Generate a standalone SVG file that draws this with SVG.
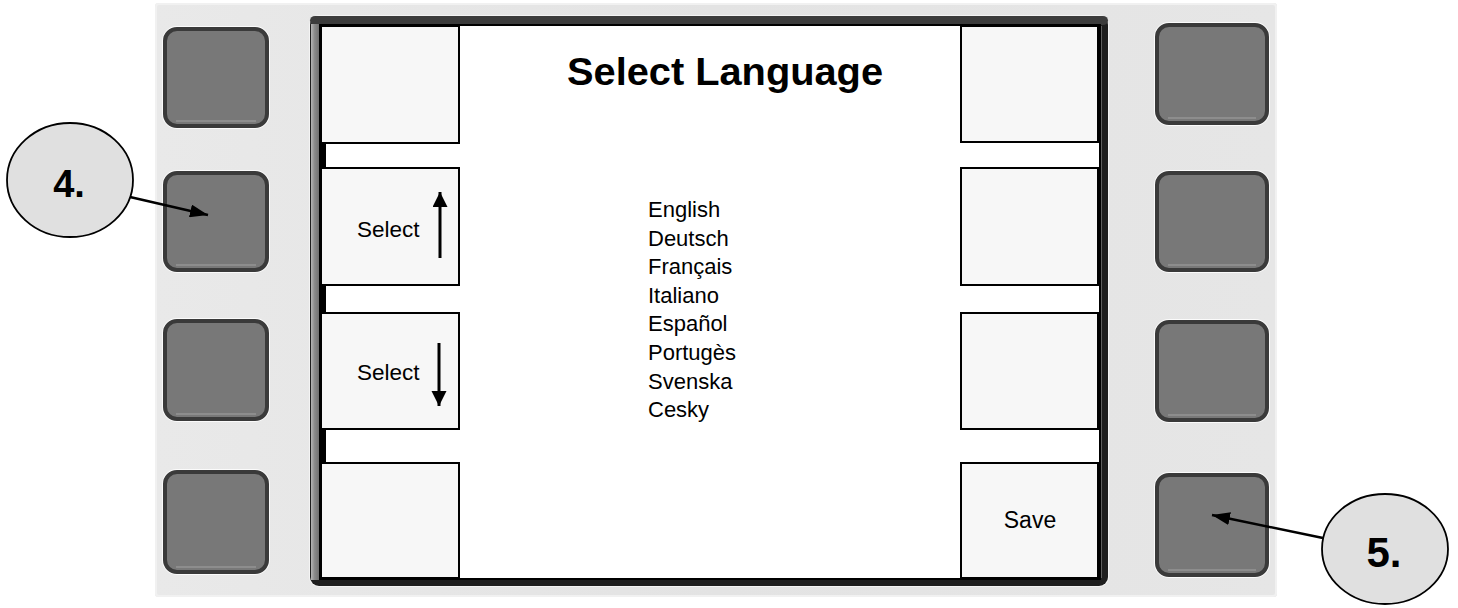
<svg xmlns="http://www.w3.org/2000/svg" width="1458" height="608" viewBox="0 0 1458 608">
  <defs>
    <style>
      .txt { font-family: "Liberation Sans", Arial, sans-serif; fill: #000; }
      .btn { fill: #787878; stroke: #3a3a3a; stroke-width: 4; }
      .halo { fill: none; stroke: #fbfbfb; stroke-width: 2; }
      .btnhl { fill: none; stroke: #959595; stroke-width: 1.5; }
      .key { fill: #f7f7f7; stroke: #000; stroke-width: 2; }
      .callout { fill: #e0e0e0; stroke: #000; stroke-width: 1.8; }
      .conn { stroke: #000; stroke-width: 2.5; fill: none; }
      .soft { stroke: #000; stroke-width: 3; fill: none; }
    </style>
    <linearGradient id="panelGrad" x1="0" y1="0" x2="1" y2="0">
      <stop offset="0" stop-color="#e9e9e9"/>
      <stop offset="0.5" stop-color="#e3e3e3"/>
      <stop offset="1" stop-color="#e6e6e6"/>
    </linearGradient>
    <linearGradient id="bezelLeft" x1="0" y1="0" x2="1" y2="0">
      <stop offset="0" stop-color="#b5b5b5"/>
      <stop offset="0.4" stop-color="#8a8a8a"/>
      <stop offset="1" stop-color="#6a6a6a"/>
    </linearGradient>
    <marker id="arrowHead" markerUnits="userSpaceOnUse" markerWidth="19" markerHeight="13" refX="18" refY="6.5" orient="auto">
      <path d="M0,0 L18,6.5 L0,13 z" fill="#000"/>
    </marker>
    <marker id="softHead" markerUnits="userSpaceOnUse" markerWidth="16" markerHeight="16" refX="15" refY="7.5" orient="auto">
      <path d="M0,0 L15,7.5 L0,15 z" fill="#000"/>
    </marker>
  </defs>

  <rect width="1458" height="608" fill="#fff"/>

  <!-- device panel -->
  <g id="panel">
    <rect x="155" y="3" width="1122" height="594" rx="3" fill="url(#panelGrad)"/>
    <rect x="156" y="4" width="1120" height="592" rx="3" fill="none" stroke="#f1f1f1" stroke-width="2"/>
  </g>

  <!-- hardware buttons -->
  <g id="button-left-1">
    <rect class="halo" x="163" y="27" width="106" height="101" rx="14"/>
    <rect class="btn" x="165" y="29" width="102" height="97" rx="12"/>
    <path class="btnhl" d="M176,121 H256"/>
  </g>
  <g id="button-left-2">
    <rect class="halo" x="163" y="171" width="106" height="101" rx="14"/>
    <rect class="btn" x="165" y="173" width="102" height="97" rx="12"/>
    <path class="btnhl" d="M176,265 H256"/>
  </g>
  <g id="button-left-3">
    <rect class="halo" x="163" y="319" width="106" height="102" rx="14"/>
    <rect class="btn" x="165" y="321" width="102" height="98" rx="12"/>
    <path class="btnhl" d="M176,414 H256"/>
  </g>
  <g id="button-left-4">
    <rect class="halo" x="163" y="470" width="106" height="104" rx="14"/>
    <rect class="btn" x="165" y="472" width="102" height="100" rx="12"/>
    <path class="btnhl" d="M176,567 H256"/>
  </g>
  <g id="button-right-1">
    <rect class="halo" x="1155" y="23" width="114" height="102" rx="14"/>
    <rect class="btn" x="1157" y="25" width="110" height="98" rx="12"/>
    <path class="btnhl" d="M1168,118 H1256"/>
  </g>
  <g id="button-right-2">
    <rect class="halo" x="1155" y="171" width="114" height="101" rx="14"/>
    <rect class="btn" x="1157" y="173" width="110" height="97" rx="12"/>
    <path class="btnhl" d="M1168,265 H1256"/>
  </g>
  <g id="button-right-3">
    <rect class="halo" x="1155" y="320" width="114" height="102" rx="14"/>
    <rect class="btn" x="1157" y="322" width="110" height="98" rx="12"/>
    <path class="btnhl" d="M1168,415 H1256"/>
  </g>
  <g id="button-right-4">
    <rect class="halo" x="1155" y="473" width="114" height="104" rx="14"/>
    <rect class="btn" x="1157" y="475" width="110" height="100" rx="12"/>
    <path class="btnhl" d="M1168,570 H1256"/>
  </g>

  <!-- screen bezel -->
  <g id="screen">
    <rect x="309" y="15" width="800" height="572" rx="10" fill="#f4f4f4"/>
    <rect x="310" y="16" width="798" height="570" rx="9" fill="#1e1e1e"/>
    <rect x="310" y="16" width="798" height="9" rx="5" fill="#3c3c3c"/>
    <rect x="311" y="24" width="9" height="556" fill="url(#bezelLeft)"/>
    <rect x="1100" y="26" width="1.5" height="552" fill="#a0a0a0"/>
    <rect x="320" y="25" width="780" height="554" fill="#fff" stroke="#000" stroke-width="2"/>
  </g>

  <!-- soft key boxes -->
  <g id="softkey-left-1"><rect class="key" x="321" y="26" width="138" height="117"/></g>
  <g id="softkey-left-2">
    <rect class="key" x="321" y="168" width="138" height="117"/>
    <text class="txt" x="357" y="237" font-size="22.5">Select</text>
    <line class="soft" x1="440" y1="258" x2="440" y2="192" marker-end="url(#softHead)"/>
  </g>
  <g id="softkey-left-3">
    <rect class="key" x="321" y="313" width="138" height="116"/>
    <text class="txt" x="357" y="380" font-size="22.5">Select</text>
    <line class="soft" x1="439" y1="343" x2="439" y2="406" marker-end="url(#softHead)"/>
  </g>
  <g id="softkey-left-4"><rect class="key" x="321" y="463" width="138" height="115"/></g>
  <g id="softkey-right-1"><rect class="key" x="961" y="26" width="137" height="116"/></g>
  <g id="softkey-right-2"><rect class="key" x="961" y="168" width="137" height="117"/></g>
  <g id="softkey-right-3"><rect class="key" x="961" y="313" width="137" height="116"/></g>
  <g id="softkey-right-4">
    <rect class="key" x="961" y="463" width="137" height="115"/>
    <text class="txt" x="1030" y="528" font-size="23" text-anchor="middle">Save</text>
  </g>

  <!-- left gap markers -->
  <g id="gap-markers" fill="#000">
    <rect x="321" y="143" width="5" height="25"/>
    <rect x="321" y="285" width="5" height="28"/>
    <rect x="321" y="429" width="5" height="34"/>
  </g>

  <!-- title and list -->
  <g id="title">
    <text class="txt" x="725" y="85" font-size="38" font-weight="bold" text-anchor="middle" textLength="316" lengthAdjust="spacingAndGlyphs">Select Language</text>
  </g>
  <g id="language-list" class="txt" font-size="22">
    <text class="txt" x="648" y="217">English</text>
    <text class="txt" x="648" y="245.6">Deutsch</text>
    <text class="txt" x="648" y="274.2">Français</text>
    <text class="txt" x="648" y="302.8">Italiano</text>
    <text class="txt" x="648" y="331.4">Español</text>
    <text class="txt" x="648" y="360">Portugès</text>
    <text class="txt" x="648" y="388.6">Svenska</text>
    <text class="txt" x="648" y="417.2">Cesky</text>
  </g>

  <!-- callouts -->
  <g id="callout-4">
    <ellipse class="callout" cx="70" cy="180" rx="63" ry="57"/>
    <text class="txt" x="69" y="197" font-size="38" font-weight="bold" text-anchor="middle">4.</text>
  </g>
  <g id="callout-5">
    <ellipse class="callout" cx="1385" cy="549" rx="63" ry="55"/>
    <text class="txt" x="1384" y="567" font-size="42" font-weight="bold" text-anchor="middle">5.</text>
  </g>

  <!-- connectors -->
  <g id="connectors">
    <line class="conn" x1="130" y1="197" x2="208" y2="215" marker-end="url(#arrowHead)"/>
    <line class="conn" x1="1323" y1="538" x2="1212" y2="515" marker-end="url(#arrowHead)"/>
  </g>
</svg>
